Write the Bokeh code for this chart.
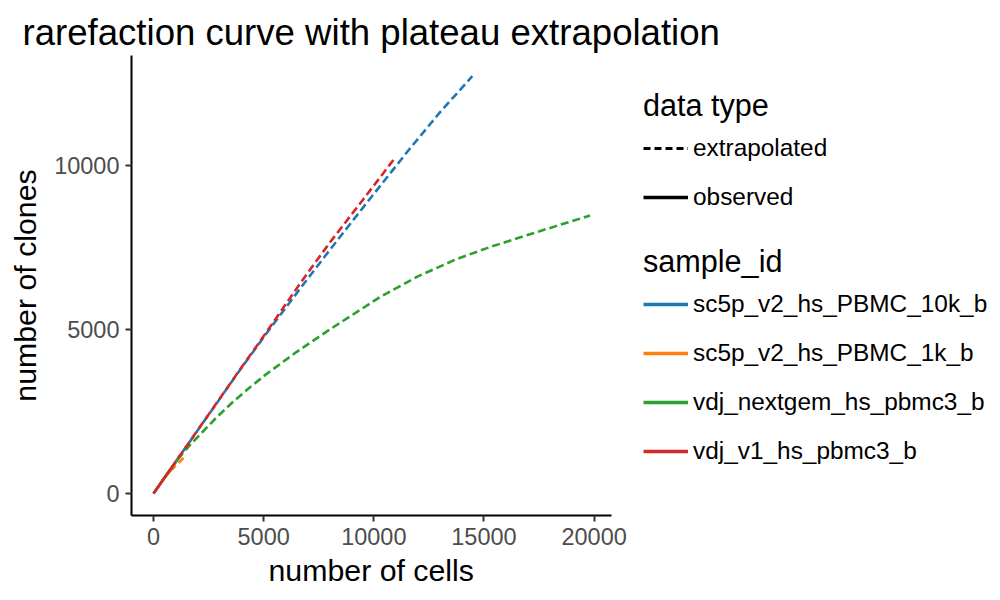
from bokeh.plotting import figure
from bokeh.models import Range1d, FixedTicker, Legend, LegendItem, Title
from bokeh.embed import file_html
from bokeh.resources import INLINE

FONT = "Liberation Sans"

samples = ["sc5p_v2_hs_PBMC_10k_b", "sc5p_v2_hs_PBMC_1k_b",
           "vdj_nextgem_hs_pbmc3_b", "vdj_v1_hs_pbmc3_b"]
sample_colors = ["#1F77B4", "#FF7F0E", "#2CA02C", "#D62728"]
data_types = ["extrapolated", "observed"]

x_ticks = [0, 5000, 10000, 15000, 20000]
y_ticks = [0, 5000, 10000]

# sc5p_v2_hs_PBMC_10k_b
pbmc10k_obs_cells = [0, 500, 1000]
pbmc10k_obs_clones = [0, 485, 965]
pbmc10k_ext_cells = [1000, 2500, 4000, 5200, 6650, 8000, 9500, 11566, 13000, 14471]
pbmc10k_ext_clones = [965, 2400, 3840, 4950, 6241, 7425, 8710, 10457, 11620, 12723]

# sc5p_v2_hs_PBMC_1k_b
pbmc1k_obs_cells = [0, 400, 750]
pbmc1k_obs_clones = [0, 380, 680]
pbmc1k_ext_cells = [750, 1050, 1360]
pbmc1k_ext_clones = [680, 880, 1085]

# vdj_nextgem_hs_pbmc3_b
nextgem_obs_cells = [0, 600, 1100]
nextgem_obs_clones = [0, 580, 1040]
nextgem_ext_cells = [1100, 1600, 2200, 2869, 3600, 4380, 5138, 6500, 8000,
                     10281, 12000, 13764, 15300, 16787, 18300, 19814]
nextgem_ext_clones = [1040, 1440, 1860, 2326, 2790, 3241, 3649, 4320, 5000,
                      5990, 6620, 7150, 7520, 7840, 8160, 8476]

# vdj_v1_hs_pbmc3_b
v1_obs_cells = [0, 400, 800]
v1_obs_clones = [0, 388, 772]
v1_ext_cells = [800, 2500, 4000, 5200, 6650, 8000, 9500, 10930]
v1_ext_clones = [772, 2408, 3852, 4990, 6400, 7650, 8950, 10204]

curves = [
    (pbmc10k_obs_cells, pbmc10k_obs_clones, pbmc10k_ext_cells, pbmc10k_ext_clones),
    (pbmc1k_obs_cells, pbmc1k_obs_clones, pbmc1k_ext_cells, pbmc1k_ext_clones),
    (nextgem_obs_cells, nextgem_obs_clones, nextgem_ext_cells, nextgem_ext_clones),
    (v1_obs_cells, v1_obs_clones, v1_ext_cells, v1_ext_clones),
]

# data panel spans x in [-1000, 20790]; the frame is widened to the right
# so that the legends can sit next to the panel
X_LO, X_HI = -1000, 20790
PANEL_W = 480
FRAME_W = 860
x_right = X_LO + (X_HI - X_LO) * FRAME_W / PANEL_W

p = figure(width=1000, height=600, output_backend="svg", toolbar_location=None,
           x_range=Range1d(X_LO, x_right), y_range=Range1d(-670, 13354),
           frame_width=FRAME_W, frame_height=460,
           min_border_left=131, min_border_right=9,
           min_border_top=55, min_border_bottom=85)

p.background_fill_color = "white"
p.border_fill_color = "white"
p.outline_line_color = None
p.xgrid.visible = False
p.ygrid.visible = False

p.title.text = "rarefaction curve with plateau extrapolation"
p.title.text_font = FONT
p.title.text_font_size = "36.6px"
p.title.text_font_style = "normal"
p.title.text_color = "black"
p.title.align = "left"
p.title.offset = -109
p.title.standoff = 6

AXIS_TITLE_SIZE = "30.3px"
for ax, ticks in ((p.xaxis[0], x_ticks), (p.yaxis[0], y_ticks)):
    ax.ticker = FixedTicker(ticks=ticks)
    ax.minor_tick_line_color = None
    ax.major_tick_in = 0
    ax.major_tick_out = 6
    ax.major_tick_line_color = "#333333"
    ax.major_tick_line_width = 2
    ax.axis_line_color = "black"
    ax.axis_line_width = 2
    ax.major_label_text_font = FONT
    ax.major_label_text_font_size = "23.5px"
    ax.major_label_text_color = "#4D4D4D"
    ax.axis_label_text_font = FONT
    ax.axis_label_text_font_size = AXIS_TITLE_SIZE
    ax.axis_label_text_font_style = "normal"
    ax.axis_label_text_color = "black"

p.xaxis.bounds = (X_LO, X_HI)
p.yaxis.axis_label = "number of clones"
p.xaxis.major_label_standoff = 6
p.yaxis.major_label_standoff = 6
p.yaxis.axis_label_standoff = 9

# x-axis title, centred under the data panel rather than the whole frame
x_title = Title(text="number of cells", align="left", offset=137,
                text_font=FONT, text_font_size=AXIS_TITLE_SIZE,
                text_font_style="normal", text_color="black", standoff=8)
p.add_layout(x_title, "below")

LW = 2.6
for (ox, oy, ex, ey), color in zip(curves, sample_colors):
    p.line(ox, oy, line_color=color, line_width=LW)
    p.line(ex, ey, line_color=color, line_width=LW, line_dash="8 4")

# legend keys: lines parked outside the visible range
KX = [-1e6, -9e5]
KY = [0, 0]
key_ext = p.line(KX, KY, line_color="black", line_width=3, line_dash="7 4")
key_obs = p.line(KX, KY, line_color="black", line_width=3.4)
sample_keys = [p.line(KX, KY, line_color=c, line_width=3.4) for c in sample_colors]


def style_legend(leg):
    leg.title_text_font = FONT
    leg.title_text_font_size = "30.6px"
    leg.title_text_font_style = "normal"
    leg.title_text_color = "black"
    leg.label_text_font = FONT
    leg.label_text_font_size = "24.4px"
    leg.label_text_color = "black"
    leg.label_text_baseline = "middle"
    leg.glyph_width = 45
    leg.glyph_height = 44
    leg.label_height = 44
    leg.label_standoff = 5
    leg.spacing = 5
    leg.padding = 0
    leg.margin = 0
    leg.title_standoff = 3
    leg.border_line_color = None
    leg.background_fill_alpha = 0


leg_type = Legend(title="data type",
                  items=[LegendItem(label=data_types[0], renderers=[key_ext]),
                         LegendItem(label=data_types[1], renderers=[key_obs])],
                  location=(512, 296))
leg_sample = Legend(title="sample_id",
                    items=[LegendItem(label=s, renderers=[r])
                           for s, r in zip(samples, sample_keys)],
                    location=(512, 42))
style_legend(leg_type)
style_legend(leg_sample)
p.add_layout(leg_type)
p.add_layout(leg_sample)

open("out.html", "w").write(file_html(p, INLINE))
